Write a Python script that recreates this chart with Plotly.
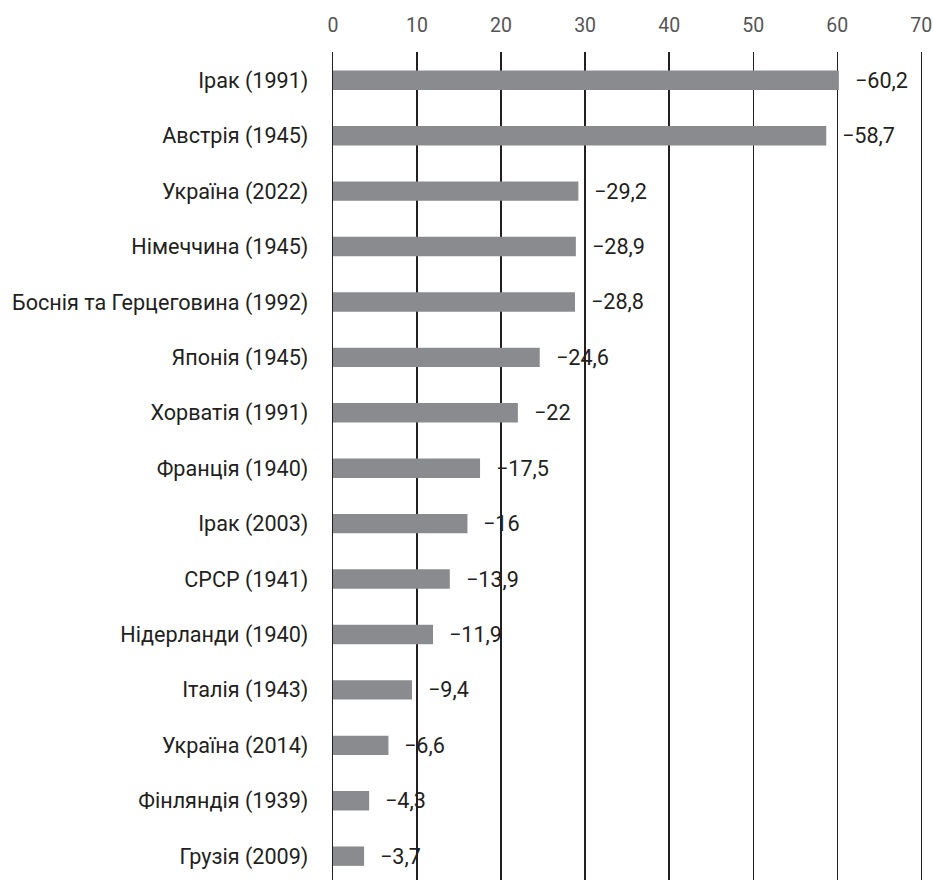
import plotly.graph_objects as go

categories = ["Ірак (1991)", "Австрія (1945)", "Україна (2022)", "Німеччина (1945)",
              "Боснія та Герцеговина (1992)", "Японія (1945)", "Хорватія (1991)",
              "Франція (1940)", "Ірак (2003)", "СРСР (1941)", "Нідерланди (1940)",
              "Італія (1943)", "Україна (2014)", "Фінляндія (1939)", "Грузія (2009)"]
values = [60.2, 58.7, 29.2, 28.9, 28.8, 24.6, 22, 17.5, 16, 13.9, 11.9, 9.4, 6.6, 4.3, 3.7]
value_labels = ["−60,2", "−58,7", "−29,2", "−28,9", "−28,8", "−24,6", "−22", "−17,5",
                "−16", "−13,9", "−11,9", "−9,4", "−6,6", "−4,3", "−3,7"]
tick_vals = [0, 10, 20, 30, 40, 50, 60, 70]

FONT = "Roboto"
FS = 21.6
TXT = "#231f20"

fig = go.Figure()
fig.add_trace(go.Bar(
    y=categories, x=values, orientation="h",
    marker=dict(color="#8a8b8e", line=dict(width=0)),
    width=0.35, hoverinfo="skip",
))

for c, v, t in zip(categories, values, value_labels):
    fig.add_annotation(x=v, y=c, text=t, showarrow=False, xanchor="left",
                       xshift=14, font=dict(family=FONT, size=FS, color=TXT))

fig.update_layout(
    width=933, height=880,
    margin=dict(l=333, r=8, t=52, b=0),
    paper_bgcolor="white", plot_bgcolor="white",
    showlegend=False,
    font=dict(family=FONT, size=FS, color=TXT),
    xaxis=dict(side="top", range=[0, 70.45], tickvals=tick_vals,
               showgrid=True, gridcolor="#231f20", gridwidth=1.3,
               zeroline=False, showline=False, ticks="",
               ticklabelstandoff=15, automargin=False,
               tickfont=dict(family=FONT, size=19.5, color="#555555")),
    yaxis=dict(categoryorder="array", categoryarray=categories,
               range=[14.43, -0.51], showgrid=False, zeroline=False,
               showline=True, linecolor="#231f20", linewidth=1.3,
               ticks="", ticklabelstandoff=19, automargin=False,
               tickfont=dict(family=FONT, size=FS, color=TXT)),
)

fig.write_html("out.html",
               config={"displayModeBar": False, "staticPlot": True},
               post_script="document.body.style.margin='0';document.body.style.overflow='hidden';")
